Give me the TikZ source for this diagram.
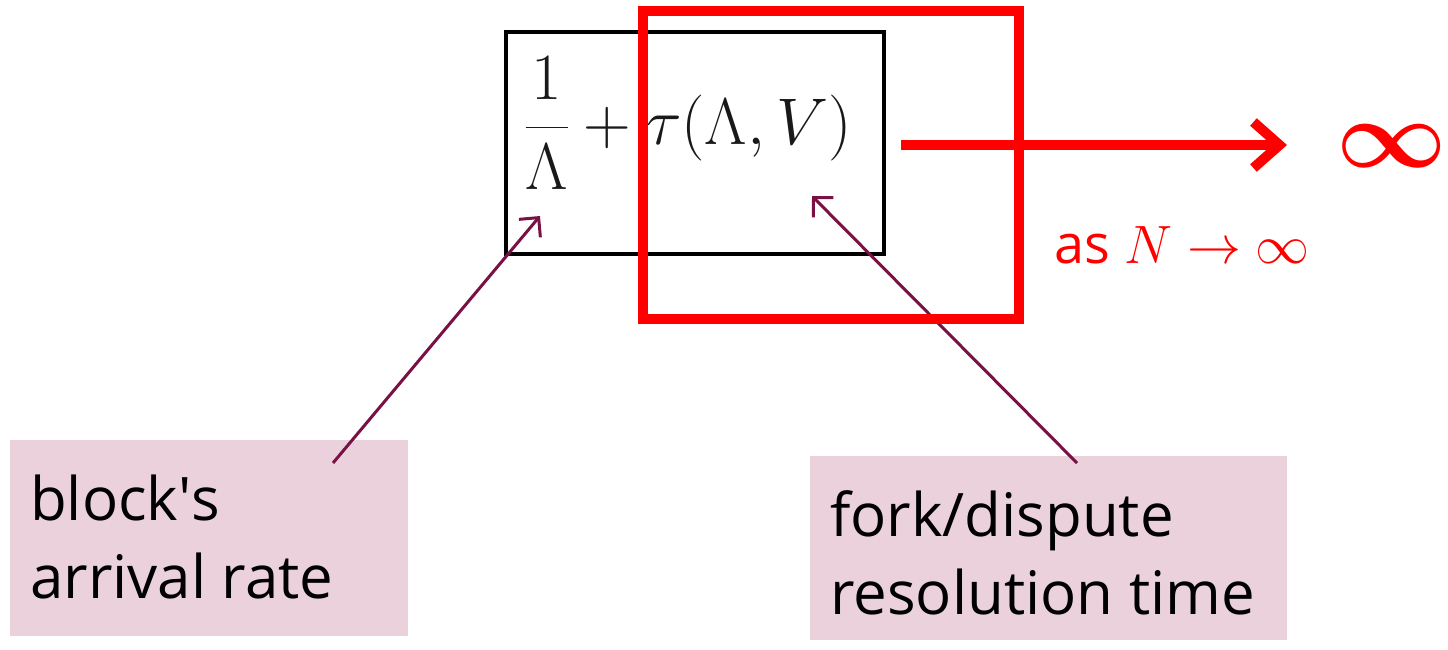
\RequirePackage{fix-cm}
\documentclass[tikz,border=0pt]{standalone}
\usepackage{amsmath}
\usepackage[no-math]{fontspec}
\setmainfont{Open Sans}
\usetikzlibrary{calc,arrows.meta}
\definecolor{notepink}{HTML}{EBD1DC}
\definecolor{pointermaroon}{HTML}{7A1145}

\begin{document}
\begin{tikzpicture}[x=1pt,y=-1pt]
\tikzset{note box/.style={ %
		fill=notepink,
		inner sep=0pt,
		anchor=north west %
	},
	note text/.style={ %
		inner sep=0pt,
		anchor=north west,
		align=left,
		font=\fontsize{60}{78}\selectfont %
	},
	pointer/.style={ %
		draw=pointermaroon,
		line width=3pt,
		-{Straight Barb[length=14pt,width=28pt]} %
	}
}
\useasboundingbox (0,0) rectangle (1448,649);
% the formula
\node[draw, line width=4pt, inner sep=0pt, minimum width=378pt, minimum height=222pt] (exprbox) at (695,143) {};
\node[anchor=base, inner sep=0pt, text=black!90, font=\fontsize{66}{72}\selectfont] (expr) at (688,144) {$\displaystyle\frac{1}{\Lambda}+\tau(\Lambda,V)$};
% the two notes
\node[note box, minimum width=398pt, minimum height=196pt] (ratebox) at (10,440) {};
\node[note text] (ratetext) at ($(ratebox.north west)+(20,35)$) {block\textquotesingle s\\arrival rate};
\node[note box, minimum width=477pt, minimum height=184pt] (forkbox) at (810,456) {};
\node[note text] (forktext) at ($(forkbox.north west)+(20,34)$) {fork/dispute\\resolution time};
\coordinate (ratefoot) at ($(ratebox.north west)+(323,23)$);
\coordinate (forkfoot) at ($(forkbox.north west)+(267,7)$);
\coordinate (ratetip) at (540,216);
\coordinate (forktip) at (812,196);
\draw[pointer] (ratefoot) -- (ratetip);
\draw[pointer] (forkfoot) -- (forktip);
% highlight and limit
\node[draw=red, line width=10pt, inner sep=0pt, minimum width=376pt, minimum height=308pt] (redbox) at (831,165) {};
\node[text=red, inner sep=0pt, font=\fontsize{96}{100}\selectfont] (biginf) at (1392,146) {$\boldsymbol{\infty}$};
\coordinate (limfrom) at (901,145);
\coordinate (limto) at (1287,145);
\draw[red, line width=10pt, -{Straight Barb[length=26pt,width=46pt]}] (limfrom) -- (limto);
\node[text=red, anchor=base west, inner sep=0pt, font=\fontsize{54}{60}\selectfont] (limnote) at (1054,263) {as $\mathsurround=0pt N\rightarrow\infty$};
\end{tikzpicture}
\end{document}
